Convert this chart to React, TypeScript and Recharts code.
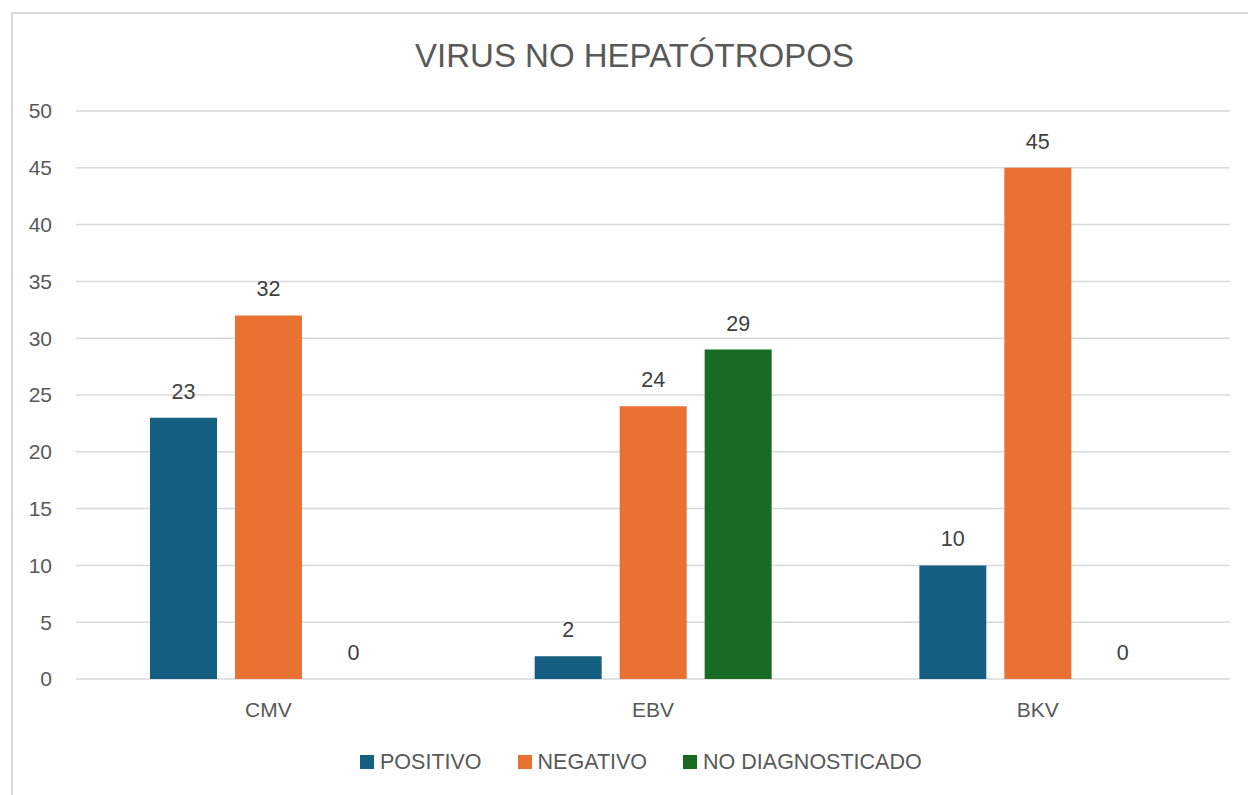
import React from "react";
import { BarChart, Bar, XAxis, YAxis, CartesianGrid, LabelList } from "recharts";

const categories = ["CMV", "EBV", "BKV"];
const positivo = [23, 2, 10];
const negativo = [32, 24, 45];
const noDiagnosticado = [0, 29, 0];
const yTicks = [0, 5, 10, 15, 20, 25, 30, 35, 40, 45, 50];

const series = [
  { key: "positivo", name: "POSITIVO", color: "#156082", values: positivo },
  { key: "negativo", name: "NEGATIVO", color: "#E97132", values: negativo },
  { key: "noDiag", name: "NO DIAGNOSTICADO", color: "#196B24", values: noDiagnosticado },
];

const data = categories.map((c, i) => {
  const row: Record<string, string | number> = { name: c };
  series.forEach((s) => (row[s.key] = s.values[i]));
  return row;
});

const FONT = '"Liberation Sans", Arial, sans-serif';

export default function App() {
  return (
    <div style={{ fontFamily: FONT }}>
      <div
        style={{
          position: "absolute",
          left: 11,
          top: 12,
          width: 1237,
          height: 783,
          borderLeft: "2px solid #d9d9d9",
          borderTop: "2px solid #d9d9d9",
          boxSizing: "border-box",
        }}
      />
      <div
        style={{
          position: "absolute",
          left: 16,
          width: 1237,
          top: 39,
          fontSize: 33,
          lineHeight: "33px",
          textAlign: "center",
          color: "#595959",
          whiteSpace: "nowrap",
        }}
      >
        VIRUS NO HEPATÓTROPOS
      </div>
      <div style={{ position: "absolute", left: 0, top: 0 }}>
        <BarChart
          width={1248}
          height={795}
          data={data}
          margin={{ top: 111, right: 18, bottom: 86, left: 16 }}
          barSize={67}
          barGap={18}
        >
          <CartesianGrid vertical={false} stroke="#d9d9d9" strokeWidth={1.5} />
          <XAxis
            dataKey="name"
            axisLine={false}
            tickLine={false}
            tickSize={0}
            tickMargin={23}
            height={30}
            tick={{ fill: "#595959", fontSize: 21, fontFamily: FONT }}
          />
          <YAxis
            domain={[0, 50]}
            ticks={yTicks}
            width={60}
            axisLine={false}
            tickLine={false}
            tickSize={0}
            tickMargin={24}
            tick={{ fill: "#595959", fontSize: 21, fontFamily: FONT }}
          />
          {series.map((s) => (
            <Bar
              key={s.key}
              dataKey={s.key}
              name={s.name}
              fill={s.color}
              minPointSize={0.01}
              isAnimationActive={false}
            >
              <LabelList
                dataKey={s.key}
                position="top"
                offset={19}
                fill="#404040"
                fontSize={21.5}
                fontFamily={FONT}
              />
            </Bar>
          ))}
        </BarChart>
      </div>
      <div
        style={{
          position: "absolute",
          left: 360,
          top: 751,
          display: "flex",
          alignItems: "center",
          gap: 36,
          fontSize: 21.5,
          lineHeight: "22px",
          color: "#595959",
          whiteSpace: "nowrap",
        }}
      >
        {series.map((s) => (
          <div key={s.key} style={{ display: "flex", alignItems: "center" }}>
            <span style={{ width: 14, height: 14, background: s.color, marginRight: 6, display: "inline-block" }} />
            <span>{s.name}</span>
          </div>
        ))}
      </div>
    </div>
  );
}
